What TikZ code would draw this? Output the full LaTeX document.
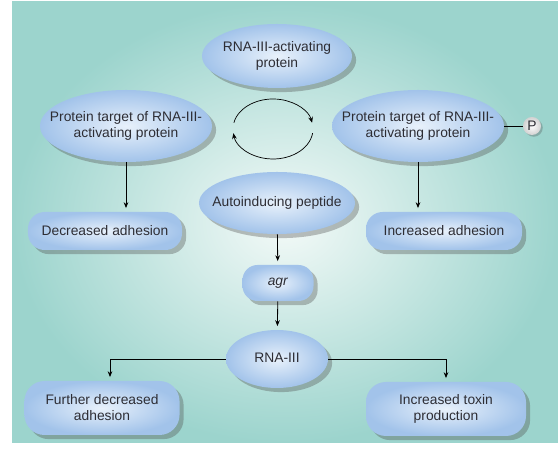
\documentclass[tikz,border=0pt]{standalone}
\usepackage{fontspec}
\setmainfont{Liberation Sans}
\usepackage{tikz}
\usetikzlibrary{shapes.geometric,shadows,arrows.meta}

\definecolor{bgin}{RGB}{244,250,248}
\definecolor{bgout}{RGB}{156,212,205}
\definecolor{nodein}{RGB}{232,241,251}
\definecolor{nodeout}{RGB}{162,195,234}
\definecolor{txt}{RGB}{45,45,52}

\newcommand{\ctext}[1]{\makebox[0pt]{\begin{tabular}{@{}c@{}}#1\end{tabular}}}

\tikzset{
  blob/.style={ellipse, inner color=nodein, outer color=nodeout, text=txt,
    drop shadow={shadow xshift=3.5pt, shadow yshift=-3.5pt, opacity=0.35, fill=black!70}},
  pill/.style={rectangle, rounded corners=0.5cm, inner color=nodein, outer color=nodeout,
    text=txt, align=center,
    drop shadow={shadow xshift=3.5pt, shadow yshift=-3.5pt, opacity=0.35, fill=black!70}},
  flow/.style={->, shorten >=3pt}
}

\begin{document}
\begin{tikzpicture}[x=0.03cm, y=0.03cm, line width=0.7pt, >={Stealth[length=5pt,width=4pt]},
    font=\fontsize{11.8}{13.6}\selectfont]

    \useasboundingbox (0,0) rectangle (558,452);
    \shade [inner color=bgin, outer color=bgout] (12,9) rectangle (558,450);

    % ellipses
    \node [blob, minimum width=4.5cm, minimum height=1.92cm] (act) at (277, 396) {\ctext{RNA-III-activating\\protein}};
    \node [blob, minimum width=5.16cm, minimum height=2.16cm] (tgtL) at (126, 326) {\ctext{Protein target of RNA-III-\\activating protein}};
    \node [blob, minimum width=5.16cm, minimum height=2.16cm] (tgtR) at (418, 326) {\ctext{Protein target of RNA-III-\\activating protein}};
    \node [blob, minimum width=4.68cm, minimum height=1.86cm] (aip) at (277, 249) {\ctext{Autoinducing peptide}};
    \node [blob, minimum width=3.06cm, minimum height=1.74cm] (rna) at (277, 93) {\ctext{RNA-III}};
    \node [circle, minimum size=0.54cm, inner sep=0pt, inner color=white, outer color=black!18, text=txt,
      drop shadow={shadow xshift=1.5pt, shadow yshift=-1.5pt, opacity=0.3, fill=black!70}] (p) at (532, 326) {P};

    % boxes
    \node [pill, minimum width=4.62cm, minimum height=1.14cm] (decL) at (105, 221) {Decreased adhesion};
    \node [pill, minimum width=4.68cm, minimum height=1.14cm] (incR) at (444, 221) {Increased adhesion};
    \node [pill, minimum width=2.13cm, minimum height=1.08cm, rounded corners=0.45cm] (agr) at (278, 169) {\textit{agr}};
    \node [pill, minimum width=4.65cm, minimum height=1.62cm, rounded corners=0.6cm] (furth) at (102, 44) {Further decreased\\adhesion};
    \node [pill, minimum width=4.8cm, minimum height=1.62cm, rounded corners=0.6cm] (tox) at (446, 43) {Increased toxin\\production};

    % cycle between the two targets
    \coordinate (cycA) at (233.87, 329.24);
    \coordinate (cycB) at (312.61, 318.82);
    \draw [->, line width=0.6pt] (cycA) arc [start angle=168, end angle=12, x radius=1.2cm, y radius=0.9cm];
    \draw [->, line width=0.6pt] (cycB) arc [start angle=-8, end angle=-172, x radius=1.2cm, y radius=0.9cm];

    \draw (tgtR.east) -- (p.west);
    \draw [flow] (tgtL.south) to (tgtL.south |- decL.north);
    \draw [flow] (tgtR.south) to (tgtR.south |- incR.north);
    \draw [flow] (aip) to (agr);
    \draw [flow] (agr) to (rna);
    \draw [flow] (rna.west) -| ([xshift=0.24cm]furth.north);
    \draw [flow] (rna.east) -| (tox.north);

\end{tikzpicture}
\end{document}
